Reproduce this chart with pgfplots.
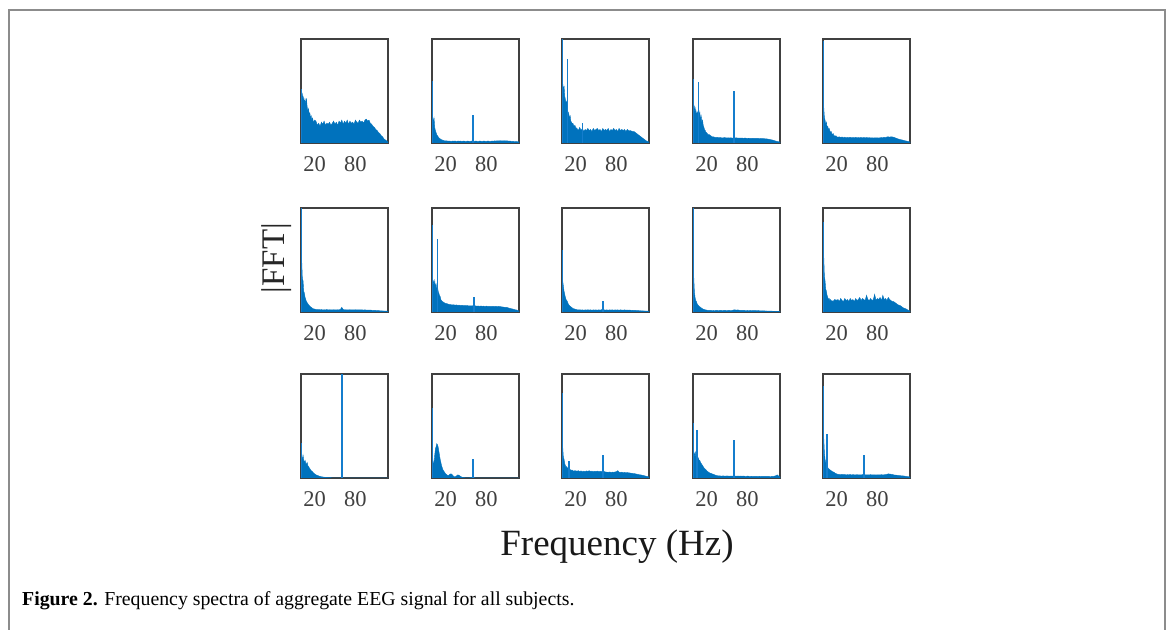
\documentclass[border=0pt]{standalone}
\usepackage{pgfplots}
\pgfplotsset{compat=1.18}
\usepackage{pgfplotstable}
\usepackage{fontspec}
\setmainfont{Liberation Serif}
\definecolor{mblue}{RGB}{0,114,189}
\definecolor{mlight}{RGB}{20,125,205}
\definecolor{framegray}{RGB}{140,140,140}
\pgfplotstableread{
x p1 p2 p3 p4 p5 p6 p7 p8 p9 p10 p11 p12 p13 p14 p15
0 0.45 0.42 0.60 0.37 0.60 0.70 0.32 0.52 0.64 0.70 0.22 0.15 0.45 0.25 0.88
1 0.42 0.25 0.58 0.30 0.35 0.50 0.28 0.30 0.35 0.55 0.20 0.20 0.30 0.22 0.40
2 0.47 0.20 0.50 0.35 0.25 0.32 0.30 0.25 0.20 0.35 0.18 0.12 0.20 0.24 0.25
3 0.40 0.24 0.55 0.28 0.22 0.30 0.25 0.20 0.14 0.30 0.22 0.15 0.18 0.20 0.18
4 0.44 0.15 0.45 0.33 0.18 0.20 0.30 0.17 0.11 0.22 0.17 0.22 0.14 0.25 0.15
5 0.38 0.12 0.42 0.25 0.20 0.18 0.24 0.14 0.10 0.20 0.15 0.28 0.12 0.22 0.14
6 0.42 0.10 0.38 0.30 0.15 0.14 0.27 0.12 0.08 0.16 0.17 0.30 0.10 0.27 0.12
7 0.36 0.08 0.40 0.27 0.16 0.12 0.22 0.11 0.07 0.14 0.14 0.33 0.11 0.20 0.10
8 0.43 0.07 0.30 0.32 0.13 0.10 0.25 0.10 0.06 0.12 0.13 0.32 0.09 0.19 0.09
9 0.35 0.06 0.30 0.26 0.14 0.09 0.20 0.08 0.055 0.13 0.15 0.30 0.10 0.17 0.085
10 0.31 0.05 0.28 0.30 0.12 0.08 0.18 0.07 0.05 0.11 0.12 0.26 0.08 0.17 0.08
11 0.33 0.045 0.24 0.22 0.10 0.07 0.16 0.06 0.045 0.12 0.11 0.22 0.09 0.15 0.075
12 0.27 0.04 0.26 0.26 0.11 0.065 0.15 0.055 0.04 0.10 0.10 0.18 0.075 0.14 0.07
13 0.29 0.035 0.21 0.20 0.09 0.055 0.12 0.05 0.035 0.11 0.09 0.15 0.08 0.13 0.065
14 0.24 0.03 0.20 0.22 0.08 0.05 0.11 0.045 0.03 0.10 0.08 0.12 0.07 0.12 0.06
15 0.26 0.03 0.18 0.17 0.09 0.045 0.10 0.04 0.028 0.11 0.07 0.10 0.075 0.11 0.058
16 0.22 0.025 0.19 0.15 0.07 0.04 0.10 0.035 0.025 0.10 0.065 0.08 0.07 0.10 0.055
17 0.24 0.025 0.17 0.13 0.07 0.035 0.09 0.03 0.022 0.12 0.06 0.07 0.065 0.09 0.05
18 0.21 0.02 0.16 0.12 0.065 0.03 0.09 0.03 0.02 0.11 0.05 0.06 0.07 0.085 0.045
19 0.20 0.02 0.17 0.10 0.07 0.03 0.085 0.028 0.02 0.12 0.045 0.05 0.065 0.08 0.042
20 0.22 0.02 0.15 0.10 0.06 0.028 0.08 0.025 0.018 0.11 0.04 0.04 0.07 0.07 0.04
22 0.21 0.02 0.14 0.08 0.055 0.025 0.08 0.022 0.016 0.12 0.03 0.03 0.065 0.06 0.035
24 0.17 0.017 0.12 0.08 0.06 0.022 0.075 0.02 0.015 0.10 0.025 0.02 0.07 0.05 0.034
26 0.19 0.019 0.15 0.07 0.052 0.024 0.072 0.021 0.016 0.13 0.02 0.035 0.062 0.045 0.033
28 0.16 0.016 0.12 0.06 0.058 0.021 0.07 0.019 0.014 0.11 0.015 0.04 0.068 0.04 0.035
30 0.20 0.018 0.14 0.06 0.05 0.023 0.068 0.02 0.015 0.10 0.012 0.03 0.06 0.035 0.032
32 0.18 0.017 0.11 0.055 0.056 0.02 0.07 0.018 0.014 0.13 0.01 0.015 0.066 0.03 0.033
34 0.21 0.019 0.13 0.052 0.05 0.022 0.065 0.02 0.016 0.11 0.008 0.01 0.062 0.025 0.03
36 0.17 0.016 0.12 0.055 0.054 0.021 0.068 0.019 0.015 0.12 0.006 0.02 0.068 0.022 0.032
38 0.19 0.018 0.14 0.05 0.05 0.023 0.064 0.021 0.014 0.10 0.005 0.03 0.064 0.02 0.031
40 0.18 0.017 0.12 0.052 0.055 0.02 0.066 0.019 0.016 0.13 0.005 0.025 0.07 0.02 0.033
42 0.20 0.018 0.13 0.05 0.05 0.022 0.062 0.02 0.015 0.11 0.004 0.015 0.062 0.018 0.03
44 0.17 0.016 0.11 0.048 0.053 0.021 0.065 0.018 0.014 0.12 0.003 0.008 0.066 0.02 0.032
46 0.19 0.018 0.14 0.052 0.05 0.02 0.06 0.02 0.016 0.10 0 0.005 0.06 0.019 0.031
48 0.21 0.017 0.12 0.05 0.054 0.022 0.063 0.019 0.015 0.13 0 0.003 0.065 0.018 0.03
50 0.18 0.016 0.13 0.048 0.05 0.021 0.06 0.02 0.014 0.11 0 0.002 0.062 0.02 0.032
52 0.20 0.018 0.14 0.05 0.052 0.02 0.062 0.018 0.016 0.12 0 0.002 0.066 0.018 0.03
54 0.17 0.017 0.12 0.048 0.05 0.022 0.058 0.02 0.015 0.14 0 0.002 0.06 0.017 0.031
56 0.21 0.016 0.13 0.05 0.053 0.021 0.06 0.019 0.014 0.11 0 0.003 0.064 0.019 0.03
58 0.19 0.018 0.11 0.046 0.05 0.025 0.058 0.02 0.016 0.13 0 0.004 0.062 0.018 0.032
60 0.22 0.017 0.14 0.05 0.052 0.045 0.06 0.03 0.02 0.12 0 0.01 0.066 0.02 0.035
62 0.18 0.016 0.12 0.048 0.05 0.025 0.065 0.02 0.02 0.11 0 0.004 0.062 0.018 0.031
64 0.21 0.018 0.13 0.05 0.052 0.021 0.058 0.019 0.018 0.16 0 0 0.058 0.017 0.03
66 0.19 0.017 0.12 0.046 0.05 0.022 0.056 0.02 0.02 0.12 0 0 0.056 0.019 0.031
68 0.22 0.016 0.14 0.048 0.051 0.02 0.058 0.018 0.017 0.11 0 0 0.055 0.017 0.03
70 0.18 0.018 0.11 0.046 0.049 0.021 0.055 0.02 0.016 0.13 0 0 0.058 0.018 0.032
72 0.21 0.017 0.13 0.048 0.05 0.022 0.057 0.019 0.015 0.11 0 0 0.054 0.017 0.03
74 0.19 0.016 0.12 0.045 0.048 0.02 0.055 0.02 0.016 0.12 0 0 0.056 0.018 0.031
76 0.20 0.018 0.14 0.047 0.05 0.021 0.056 0.018 0.015 0.17 0 0 0.055 0.017 0.03
78 0.18 0.017 0.12 0.046 0.049 0.02 0.054 0.02 0.014 0.11 0 0 0.058 0.016 0.029
80 0.22 0.016 0.13 0.045 0.05 0.022 0.056 0.019 0.015 0.13 0 0 0.06 0.018 0.03
82 0.20 0.018 0.11 0.046 0.048 0.02 0.054 0.02 0.014 0.12 0 0 0.07 0.017 0.031
84 0.19 0.017 0.14 0.045 0.05 0.021 0.055 0.018 0.015 0.14 0 0 0.056 0.016 0.03
86 0.22 0.016 0.12 0.044 0.052 0.02 0.053 0.02 0.014 0.11 0 0 0.054 0.017 0.032
88 0.20 0.018 0.13 0.046 0.05 0.021 0.055 0.019 0.013 0.16 0 0 0.056 0.016 0.03
90 0.21 0.017 0.12 0.045 0.055 0.02 0.054 0.018 0.014 0.12 0 0 0.052 0.017 0.031
92 0.19 0.02 0.13 0.044 0.052 0.019 0.053 0.02 0.013 0.13 0 0 0.054 0.016 0.033
94 0.22 0.019 0.11 0.045 0.058 0.02 0.055 0.018 0.012 0.11 0 0 0.05 0.017 0.035
96 0.23 0.021 0.13 0.044 0.06 0.019 0.052 0.019 0.013 0.14 0 0 0.052 0.016 0.04
98 0.21 0.02 0.12 0.043 0.056 0.018 0.054 0.017 0.012 0.12 0 0 0.05 0.017 0.038
100 0.22 0.022 0.12 0.044 0.06 0.019 0.052 0.018 0.011 0.11 0 0 0.048 0.016 0.036
102 0.19 0.021 0.115 0.042 0.058 0.018 0.05 0.016 0.012 0.10 0 0 0.046 0.015 0.034
104 0.18 0.02 0.11 0.043 0.055 0.017 0.048 0.017 0.011 0.10 0 0 0.044 0.016 0.03
106 0.16 0.022 0.11 0.04 0.05 0.016 0.046 0.015 0.01 0.09 0 0 0.042 0.015 0.028
108 0.15 0.02 0.10 0.04 0.045 0.016 0.045 0.016 0.01 0.08 0 0 0.04 0.016 0.027
110 0.13 0.021 0.09 0.038 0.04 0.015 0.044 0.014 0.009 0.07 0 0 0.037 0.015 0.025
112 0.12 0.019 0.08 0.035 0.036 0.014 0.04 0.013 0.009 0.065 0 0 0.034 0.015 0.024
114 0.10 0.018 0.07 0.032 0.032 0.013 0.036 0.012 0.008 0.06 0 0 0.031 0.014 0.022
116 0.09 0.017 0.06 0.03 0.03 0.012 0.032 0.012 0.008 0.05 0 0 0.03 0.016 0.021
118 0.07 0.016 0.05 0.026 0.026 0.011 0.03 0.011 0.007 0.04 0 0 0.026 0.015 0.02
120 0.06 0.015 0.04 0.022 0.022 0.01 0.026 0.01 0.007 0.035 0 0 0.024 0.018 0.018
122 0.04 0.014 0.03 0.018 0.02 0.01 0.022 0.01 0.006 0.03 0 0 0.02 0.022 0.016
124 0.03 0.013 0.02 0.015 0.016 0.009 0.02 0.009 0.006 0.022 0 0 0.016 0.03 0.014
126 0.02 0.012 0.015 0.012 0.013 0.008 0.015 0.008 0.005 0.015 0 0 0.013 0.018 0.012
128 0.01 0.012 0.01 0.01 0.01 0.008 0.01 0.008 0.005 0.01 0 0 0.01 0.01 0.01
}\spec
\pgfplotsset{
  panel/.style={
    scale only axis, width=87pt, height=104pt,
    xmin=0, xmax=128, ymin=0, ymax=1,
    xtick={20,80}, ytick=\empty, major tick length=0pt,
    axis line style={black!75, line width=1.1pt},
    anchor=south west,
    /pgf/number format/assume math mode=true,
    xticklabel style={font=\fontsize{22.5}{22.5}\selectfont, text=black!75, yshift=-10pt},
  },
  spec/.style={fill=mblue, draw=mblue, line width=0.4pt},
  spk/.style={mlight, line width=1.7pt, ycomb, mark=none},
}
\begin{document}
\begin{tikzpicture}
\useasboundingbox (0pt,0pt) rectangle (1169pt,629pt);
\draw[framegray, line width=2pt] (9pt,-2pt) -- (9pt,619pt) -- (1165pt,619pt) -- (1165pt,-2pt);
% Row 1
\begin{axis}[panel, at={(301pt,486pt)}]
\addplot[spec] table[x=x,y=p1]{\spec} \closedcycle;
\addplot[spk] coordinates {(0.6,0.52)};
\end{axis}
\begin{axis}[panel, at={(432pt,486pt)}]
\addplot[spec] table[x=x,y=p2]{\spec} \closedcycle;
\addplot[spk] coordinates {(0.6,0.60) (60,0.27)};
\end{axis}
\begin{axis}[panel, at={(562pt,486pt)}]
\addplot[spec] table[x=x,y=p3]{\spec} \closedcycle;
\addplot[spk] coordinates {(0.6,1.0) (8,0.81) (30,0.19)};
\end{axis}
\begin{axis}[panel, at={(693pt,486pt)}]
\addplot[spec] table[x=x,y=p4]{\spec} \closedcycle;
\addplot[spk] coordinates {(0.6,0.62) (8,0.59) (60,0.50)};
\end{axis}
\begin{axis}[panel, at={(823pt,486pt)}]
\addplot[spec] table[x=x,y=p5]{\spec} \closedcycle;
\addplot[spk] coordinates {(0.6,0.98)};
\end{axis}
% Row 2
\begin{axis}[panel, at={(301pt,317pt)}]
\addplot[spec] table[x=x,y=p6]{\spec} \closedcycle;
\addplot[spk] coordinates {(0.6,1.0)};
\end{axis}
\begin{axis}[panel, at={(432pt,317pt)}]
\addplot[spec] table[x=x,y=p7]{\spec} \closedcycle;
\addplot[spk] coordinates {(0.6,0.84) (8,0.70) (62,0.14)};
\end{axis}
\begin{axis}[panel, at={(562pt,317pt)}]
\addplot[spec] table[x=x,y=p8]{\spec} \closedcycle;
\addplot[spk] coordinates {(0.6,0.60) (60,0.11)};
\end{axis}
\begin{axis}[panel, at={(693pt,317pt)}]
\addplot[spec] table[x=x,y=p9]{\spec} \closedcycle;
\addplot[spk] coordinates {(0.6,1.0)};
\end{axis}
\begin{axis}[panel, at={(823pt,317pt)}]
\addplot[spec] table[x=x,y=p10]{\spec} \closedcycle;
\addplot[spk] coordinates {(0.6,0.87)};
\end{axis}
% Row 3
\begin{axis}[panel, at={(301pt,151pt)}]
\addplot[spec] table[x=x,y=p11]{\spec} \closedcycle;
\addplot[spk] coordinates {(0.6,0.34) (60,1.0)};
\end{axis}
\begin{axis}[panel, at={(432pt,151pt)}]
\addplot[spec] table[x=x,y=p12]{\spec} \closedcycle;
\addplot[spk] coordinates {(0.6,0.67) (60,0.18)};
\end{axis}
\begin{axis}[panel, at={(562pt,151pt)}]
\addplot[spec] table[x=x,y=p13]{\spec} \closedcycle;
\addplot[spk] coordinates {(0.6,0.82) (10,0.16) (60,0.22)};
\end{axis}
\begin{axis}[panel, at={(693pt,151pt)}]
\addplot[spec] table[x=x,y=p14]{\spec} \closedcycle;
\addplot[spk] coordinates {(0.6,0.53) (6,0.46) (60,0.37)};
\end{axis}
\begin{axis}[panel, at={(823pt,151pt)}]
\addplot[spec] table[x=x,y=p15]{\spec} \closedcycle;
\addplot[spk] coordinates {(0.6,0.88) (6,0.42) (60,0.22)};
\end{axis}
% Labels
\node[rotate=90, font=\fontsize{33}{33}\selectfont, text=black!85] at (277pt,371pt) {|FFT|};
\node[anchor=base, font=\fontsize{37}{37}\selectfont, text=black!90] at (617pt,74pt) {Frequency (Hz)};
\node[anchor=base west, inner sep=0pt, font=\fontsize{19.8}{20}\selectfont] at (22pt,24pt) {\textbf{Figure 2.} Frequency spectra of aggregate EEG signal for all subjects.};
\end{tikzpicture}
\end{document}
